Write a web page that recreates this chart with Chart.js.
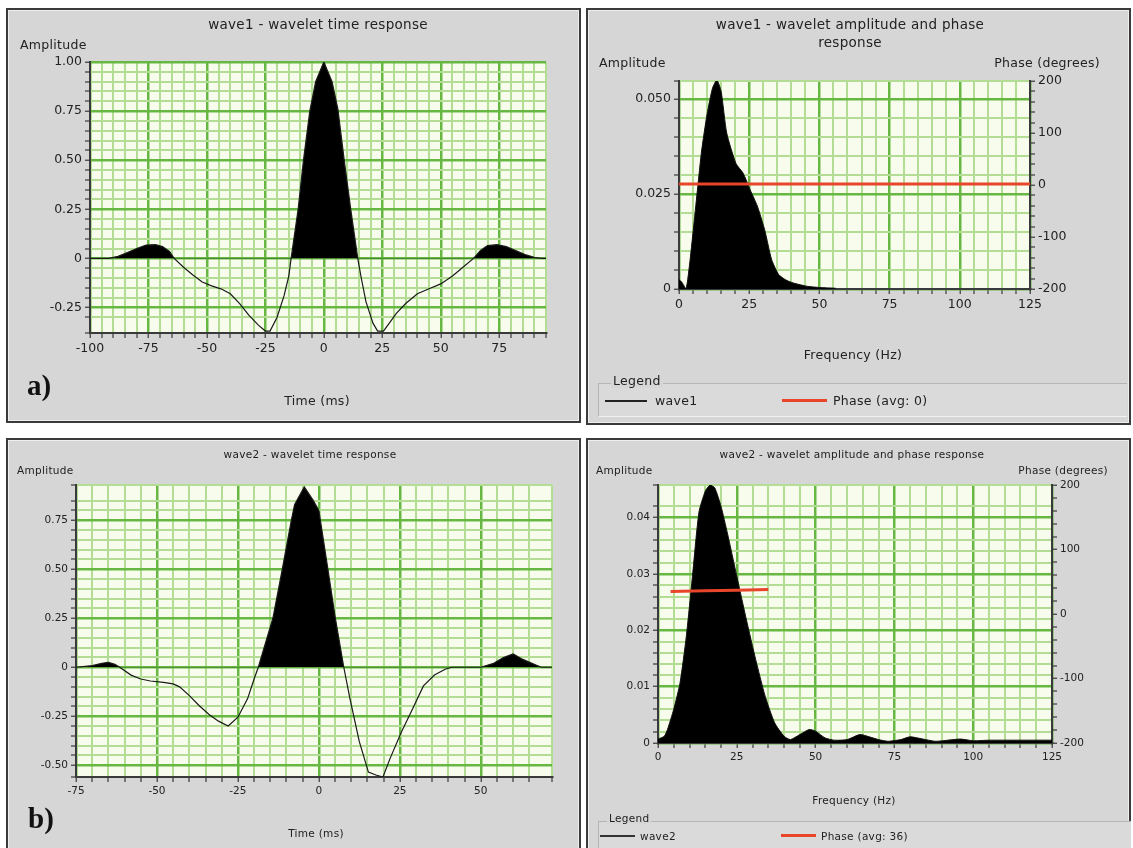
<!DOCTYPE html>
<html>
<head>
<meta charset="utf-8">
<title>wavelet time and phase response</title>
<script src="https://cdn.jsdelivr.net/npm/chart.js@4.4.0/dist/chart.umd.min.js"></script>
<style>
  html, body { margin: 0; padding: 0; background: #fff; }
  body { width: 1133px; height: 848px; overflow: hidden; position: relative; font-family: 'DejaVu Sans', sans-serif; color: #222; }
  .panel { position: absolute; background: #d6d6d6; border: 2px solid #3a3a3a; box-sizing: border-box; box-shadow: inset 0 0 0 1px #eeeeee; }
  .cw { position: absolute; }
  .txt { position: absolute; white-space: nowrap; line-height: 1; letter-spacing: 0.3px; }
  .lgbox { position: absolute; border-top: 1px solid #b5b5b5; border-left: 1px solid #b5b5b5; border-bottom: 1px solid #f2f2f2; background: #dadada; box-sizing: border-box; }
  .sw { position: absolute; }
</style>
</head>
<body>

<div class="panel" style="left:6px;top:8px;width:575px;height:415px"></div>
<div class="panel" style="left:586px;top:8px;width:545px;height:417px"></div>
<div class="panel" style="left:6px;top:438px;width:575px;height:420px"></div>
<div class="panel" style="left:586px;top:438px;width:545px;height:420px"></div>

<div class="cw" style="left:6px;top:8px;width:575px;height:415px"><canvas id="timeA"></canvas></div>
<div class="cw" style="left:586px;top:8px;width:545px;height:417px"><canvas id="specA"></canvas></div>
<div class="cw" style="left:6px;top:438px;width:575px;height:420px"><canvas id="timeB"></canvas></div>
<div class="cw" style="left:586px;top:438px;width:545px;height:420px"><canvas id="specB"></canvas></div>

<script>
// wave1 - wavelet time response (ms, amplitude)
const time1 = [-100, -92, -88, -84, -80, -76, -72, -69, -66, -64, -60, -56, -52, -48, -44, -40, -36, -32, -28, -25, -23, -20, -17, -15, -14, -11, -8.7, -6, -3.5, 0,
  3.5, 6, 8.7, 11.5, 14.5, 16, 18, 21, 23, 25.5, 28, 31, 35, 40, 45, 50, 55, 60, 64, 67, 70, 74, 78, 82, 86, 90, 93, 95];
const amp1 = [0, 0, 0.01, 0.03, 0.05, 0.068, 0.07, 0.06, 0.035, 0, -0.045, -0.085, -0.12, -0.14, -0.155, -0.18, -0.23, -0.29, -0.34, -0.37, -0.37, -0.30, -0.19, -0.09, 0, 0.25, 0.5, 0.75, 0.9, 1.0,
  0.9, 0.76, 0.5, 0.25, 0, -0.1, -0.22, -0.33, -0.37, -0.37, -0.33, -0.28, -0.23, -0.18, -0.155, -0.13, -0.09, -0.04, 0, 0.04, 0.065, 0.07, 0.06, 0.04, 0.02, 0.005, 0, 0];

// wave1 - amplitude spectrum (Hz, amplitude) and phase (degrees)
const freq1 = [0, 1, 2.5, 4, 6, 8, 10, 12, 13.5, 15, 17, 20.3, 22.8, 25.4, 27.9, 30.5, 33, 35.5, 38, 40.6, 45.7, 50, 55.8];
const spec1 = [0.0025, 0.0018, 0, 0.008, 0.022, 0.036, 0.046, 0.053, 0.0549, 0.052, 0.041, 0.033, 0.0305, 0.026, 0.0218, 0.0156, 0.0077, 0.0038, 0.0024, 0.0016, 0.0007, 0.0004, 0.0002];
const phaseFreq1 = [0, 125];
const phase1 = [2, 2];

// wave2 - wavelet time response
const time2 = [-75, -70, -67, -65, -63, -61.5, -58, -55, -52, -48, -45, -43, -40, -37, -34, -31, -28, -25, -22, -20, -18.7, -14.2, -11.3, -8.5, -7.5, -4.5, -1.7, 0,
  2.8, 5.1, 7.7, 9.6, 12.5, 15.3, 17.6, 19.8, 22, 25.5, 29, 32.3, 35.7, 39, 41, 50, 54, 57, 60, 63, 66.5, 68.7, 72];
const amp2 = [0, 0.008, 0.02, 0.025, 0.015, 0, -0.04, -0.06, -0.07, -0.077, -0.085, -0.1, -0.145, -0.195, -0.24, -0.275, -0.3, -0.255, -0.16, -0.06, 0, 0.25, 0.5, 0.75, 0.83, 0.92, 0.85, 0.8,
  0.5, 0.25, 0, -0.16, -0.38, -0.535, -0.55, -0.56, -0.465, -0.33, -0.21, -0.095, -0.04, -0.01, 0, 0, 0.02, 0.05, 0.068, 0.04, 0.015, 0, 0];

// wave2 - amplitude spectrum and phase
const freq2 = [0, 2, 3, 5, 7, 9, 11, 13, 15, 16.5, 18, 20, 22, 25, 28, 31, 34, 37, 40, 42, 45, 48, 50, 53, 56, 60, 64, 67, 70, 73, 77, 80, 84, 88, 92, 96, 100, 105, 110, 115, 120, 125];
const spec2 = [0.0007, 0.0012, 0.0024, 0.006, 0.0107, 0.019, 0.030, 0.041, 0.0447, 0.0458, 0.0453, 0.042, 0.0373, 0.0296, 0.022, 0.0148, 0.0083, 0.0036, 0.0012, 0.0006, 0.0015, 0.0024, 0.0021, 0.0009, 0.0005,
  0.0006, 0.0015, 0.0011, 0.0006, 0.0003, 0.0006, 0.0011, 0.0007, 0.0003, 0.0005, 0.0007, 0.0004, 0.0005, 0.0005, 0.0005, 0.0005, 0.0005];
const phaseFreq2 = [4, 15, 25, 35];
const phase2 = [35, 36, 37, 38];

// tick labels (major ticks only)
const timeTicks1 = [-100, -75, -50, -25, 0, 25, 50, 75];
const ampTicks1 = [-0.25, 0, 0.25, 0.5, 0.75, 1.0];
const ampLabels1 = ['-0.25', '0', '0.25', '0.50', '0.75', '1.00'];
const timeTicks2 = [-75, -50, -25, 0, 25, 50];
const ampTicks2 = [-0.5, -0.25, 0, 0.25, 0.5, 0.75];
const ampLabels2 = ['-0.50', '-0.25', '0', '0.25', '0.50', '0.75'];
const freqTicks = [0, 25, 50, 75, 100, 125];
const specTicks1 = [0, 0.025, 0.05];
const specLabels1 = ['0', '0.025', '0.050'];
const specTicks2 = [0, 0.01, 0.02, 0.03, 0.04];
const specLabels2 = ['0', '0.01', '0.02', '0.03', '0.04'];
const phaseTicks = [-200, -100, 0, 100, 200];

Chart.defaults.font.family = "'DejaVu Sans', sans-serif";
Chart.defaults.color = '#222';

// pale paper colour behind the grid
const plotBg = {
  id: 'plotBg',
  beforeDraw(chart) {
    const { ctx, chartArea: a } = chart;
    ctx.save();
    ctx.fillStyle = '#f8fcec';
    ctx.fillRect(a.left, a.top, a.width, a.height);
    ctx.restore();
  }
};

function majorIndex(v, majors) {
  return majors.findIndex(m => Math.abs(m - v) < 1e-9);
}

// linear axis with minor grid every `step` and labels only on majors
function axis(position, min, max, step, majors, labels, size, fontSize, onChart) {
  return {
    type: 'linear',
    position: position,
    min: min,
    max: max,
    afterFit: s => { if (s.isHorizontal()) s.height = size; else s.width = size; },
    border: { color: '#3a3a3a', width: 2 },
    grid: {
      drawOnChartArea: onChart,
      color: c => (c.tick && majorIndex(c.tick.value, majors) >= 0) ? '#66b842' : '#b3dc94',
      lineWidth: c => (c.tick && majorIndex(c.tick.value, majors) >= 0) ? 2.5 : 2,
      tickLength: 5,
      tickColor: '#444',
      tickWidth: 1.3
    },
    ticks: {
      stepSize: step,
      autoSkip: false,
      maxRotation: 0,
      padding: 3,
      color: '#222',
      font: { size: fontSize },
      callback: v => {
        const i = majorIndex(v, majors);
        return i < 0 ? '' : labels[i];
      }
    }
  };
}

function points(xs, ys) {
  return xs.map((x, i) => ({ x: x, y: ys[i] }));
}

// time response: positive lobes filled black
function timeChart(id, xs, ys, xAxis, yAxis, pad) {
  new Chart(document.getElementById(id), {
    type: 'line',
    data: {
      datasets: [{
        data: points(xs, ys),
        borderColor: '#1a1a1a',
        borderWidth: 1.2,
        pointRadius: 0,
        tension: 0,
        fill: { target: 'origin', above: '#000', below: 'rgba(0,0,0,0)' }
      }]
    },
    options: {
      responsive: true,
      maintainAspectRatio: false,
      animation: false,
      layout: { padding: pad },
      plugins: { legend: { display: false }, tooltip: { enabled: false } },
      scales: { x: xAxis, y: yAxis }
    },
    plugins: [plotBg]
  });
}

// amplitude spectrum plus phase line on the right axis
function specChart(id, fs, amps, pf, ph, xAxis, yAxis, y2Axis, pad) {
  new Chart(document.getElementById(id), {
    type: 'line',
    data: {
      datasets: [{
        data: points(pf, ph),
        yAxisID: 'y2',
        borderColor: '#e8452b',
        borderWidth: 3,
        pointRadius: 0,
        fill: false,
        order: 0
      }, {
        data: points(fs, amps),
        yAxisID: 'y',
        borderColor: '#111',
        borderWidth: 1,
        pointRadius: 0,
        tension: 0.2,
        fill: { target: 'origin', above: '#000', below: '#000' },
        order: 1
      }]
    },
    options: {
      responsive: true,
      maintainAspectRatio: false,
      animation: false,
      layout: { padding: pad },
      plugins: { legend: { display: false }, tooltip: { enabled: false } },
      scales: { x: xAxis, y: yAxis, y2: y2Axis }
    },
    plugins: [plotBg]
  });
}

timeChart('timeA', time1, amp1,
  axis('bottom', -100, 95, 5, timeTicks1, timeTicks1.map(String), 30, 12.5, true),
  axis('left', -0.38, 1.0, 0.05, ampTicks1, ampLabels1, 60, 12.5, true),
  { left: 24, right: 35, top: 54, bottom: 60 });

specChart('specA', freq1, spec1, phaseFreq1, phase1,
  axis('bottom', 0, 125, 5, freqTicks, freqTicks.map(String), 30, 12.5, true),
  axis('left', 0, 0.0547, 0.005, specTicks1, specLabels1, 60, 12.5, true),
  axis('right', -200, 200, 20, phaseTicks, phaseTicks.map(String), 50, 12.5, false),
  { left: 33, right: 51, top: 73, bottom: 106 });

timeChart('timeB', time2, amp2,
  axis('bottom', -75, 72, 5, timeTicks2, timeTicks2.map(String), 25, 10.5, true),
  axis('left', -0.56, 0.93, 0.05, ampTicks2, ampLabels2, 50, 10.5, true),
  { left: 20, right: 29, top: 47, bottom: 56 });

specChart('specB', freq2, spec2, phaseFreq2, phase2,
  axis('bottom', 0, 125, 5, freqTicks, freqTicks.map(String), 25, 10.5, true),
  axis('left', 0, 0.0458, 0.002, specTicks2, specLabels2, 50, 10.5, true),
  axis('right', -200, 200, 20, phaseTicks, phaseTicks.map(String), 45, 10.5, false),
  { left: 22, right: 34, top: 47, bottom: 90 });

// titles, axis captions and panel letters
function addText(text, x, y, size, align, extra) {
  const d = document.createElement('div');
  d.className = 'txt';
  d.textContent = text;
  d.style.left = x + 'px';
  d.style.top = y + 'px';
  d.style.fontSize = size + 'px';
  const tx = align === 'center' ? '-50%' : (align === 'right' ? '-100%' : '0');
  d.style.transform = 'translate(' + tx + ', -50%)';
  if (extra) Object.assign(d.style, extra);
  document.body.appendChild(d);
  return d;
}

function addSwatch(x, y, w, h, color) {
  const s = document.createElement('div');
  s.className = 'sw';
  Object.assign(s.style, { left: x + 'px', top: y + 'px', width: w + 'px', height: h + 'px', background: color });
  document.body.appendChild(s);
}

function addBox(x, y, w, h) {
  const box = document.createElement('div');
  box.className = 'lgbox';
  Object.assign(box.style, { left: x + 'px', top: y + 'px', width: w + 'px', height: h + 'px' });
  document.body.appendChild(box);
}

const serif = { fontFamily: "'Liberation Serif', serif", fontWeight: 'bold', color: '#111', letterSpacing: '0' };
const lgLabel = { background: '#d6d6d6', padding: '0 2px' };

// top left
addText('wave1 - wavelet time response', 318, 25, 13.5, 'center');
addText('Amplitude', 20, 45, 12.5, 'left');
addText('Time (ms)', 317, 401, 12.5, 'center');
addText('a)', 27, 385, 29, 'left', serif);

// top right
addText('wave1 - wavelet amplitude and phase', 850, 25, 13.5, 'center');
addText('response', 850, 43, 13.5, 'center');
addText('Amplitude', 599, 63, 12.5, 'left');
addText('Phase (degrees)', 1100, 63, 12.5, 'right');
addText('Frequency (Hz)', 853, 355, 12.5, 'center');
addBox(598, 383, 529, 34);
addText('Legend', 611, 381, 12.5, 'left', lgLabel);
addSwatch(605, 400, 42, 1.5, '#222');
addText('wave1', 655, 401, 12.5, 'left');
addSwatch(782, 399, 45, 3, '#e8452b');
addText('Phase (avg: 0)', 833, 401, 12.5, 'left');

// bottom left
addText('wave2 - wavelet time response', 310, 454, 10.5, 'center');
addText('Amplitude', 17, 470, 10.5, 'left');
addText('Time (ms)', 316, 833, 10.5, 'center');
addText('b)', 28, 818, 29, 'left', serif);

// bottom right
addText('wave2 - wavelet amplitude and phase response', 852, 454, 10.5, 'center');
addText('Amplitude', 596, 470, 10.5, 'left');
addText('Phase (degrees)', 1108, 470, 10.5, 'right');
addText('Frequency (Hz)', 854, 800, 10.5, 'center');
addBox(598, 821, 533, 40);
addText('Legend', 607, 818, 10.5, 'left', lgLabel);
addSwatch(600, 835, 35, 1.5, '#333');
addText('wave2', 640, 836, 10.5, 'left');
addSwatch(781, 834, 35, 3, '#e8452b');
addText('Phase (avg: 36)', 821, 836, 10.5, 'left');
</script>
</body>
</html>
